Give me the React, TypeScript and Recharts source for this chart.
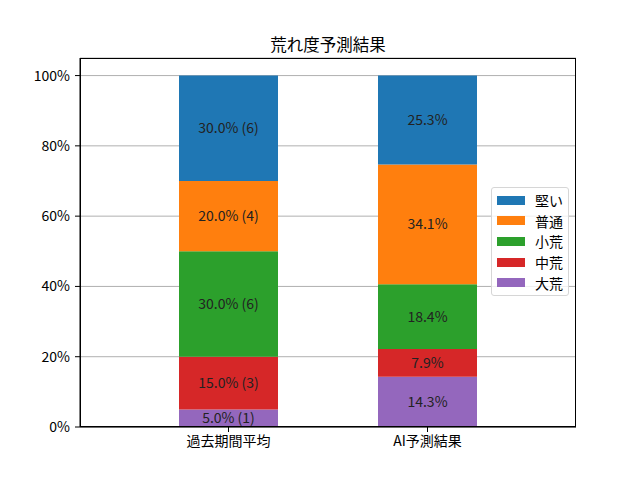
import React from 'react';
import { BarChart, Bar, XAxis, YAxis, CartesianGrid } from 'recharts';

// 荒れ度カテゴリ (下から積み上げ順)
const levels = ['大荒', '中荒', '小荒', '普通', '堅い'];
const colors = ['#9467bd', '#d62728', '#2ca02c', '#ff7f0e', '#1f77b4'];
const groups = ['過去期間平均', 'AI予測結果'];

const pastPct = [5.0, 15.0, 30.0, 20.0, 30.0];
const pastCount = [1, 3, 6, 4, 6];
const aiPct = [14.3, 7.9, 18.4, 34.1, 25.3];

const yTicks = [0, 20, 40, 60, 80, 100];

const FONT = '"Noto Sans CJK JP", "DejaVu Sans", sans-serif';

const rows = groups.map((g, gi) => {
  const row: Record<string, string | number> = { name: g };
  levels.forEach((lv, li) => {
    row[lv] = gi === 0 ? pastPct[li] : aiPct[li];
  });
  return row;
});

const makeLabel = (li: number) => (props: any) => {
  const { x, y, width, height, index } = props;
  const text =
    index === 0
      ? `${pastPct[li].toFixed(1)}% (${pastCount[li]})`
      : `${aiPct[li].toFixed(1)}%`;
  return (
    <text
      x={Number(x) + Number(width) / 2}
      y={Number(y) + Number(height) / 2 - 1}
      textAnchor="middle"
      dominantBaseline="central"
      fontSize={14}
      fontFamily={FONT}
      fill="#222"
    >
      {text}
    </text>
  );
};

const LegendBox = () => (
  <div
    style={{
      position: 'absolute',
      left: 491,
      top: 187,
      border: '1px solid #d6d6d6',
      borderRadius: 3,
      background: 'rgba(255,255,255,0.8)',
      width: 78,
      height: 109,
      boxSizing: 'border-box',
      padding: '2px 0 0 5px',
      fontFamily: FONT,
      fontSize: 14,
    }}
  >
    {levels
      .map((lv, i) => ({ lv, c: colors[i] }))
      .reverse()
      .map(({ lv, c }) => (
        <div key={lv} style={{ display: 'flex', alignItems: 'center', height: 20.6 }}>
          <span style={{ display: 'inline-block', width: 28, height: 9, background: c, marginRight: 10 }} />
          <span style={{ color: '#000' }}>{lv}</span>
        </div>
      ))}
  </div>
);

export default function App() {
  return (
    <div style={{ position: 'absolute', left: 0, top: 0, width: 640, height: 480, background: '#fff' }}>
      <div
        style={{
          position: 'absolute',
          left: 80,
          width: 496,
          top: 32,
          textAlign: 'center',
          fontFamily: FONT,
          fontSize: 16.5,
          color: '#000',
        }}
      >
        荒れ度予測結果
      </div>
      <BarChart
        width={640}
        height={480}
        data={rows}
        margin={{ top: 58, right: 64, left: 20, bottom: 23 }}
        barSize={99}
      >
        <CartesianGrid vertical={false} stroke="#b0b0b0" />
        <XAxis
          dataKey="name"
          padding={{ left: 49, right: 49 }}
          height={30}
          axisLine={{ stroke: '#000' }}
          tickLine={{ stroke: '#000' }}
          tickSize={5}
          tickMargin={4}
          tick={{ fill: '#000', fontSize: 14, fontFamily: FONT }}
        />
        <YAxis
          width={60}
          domain={[0, 105]}
          ticks={yTicks}
          tickFormatter={(v) => `${v}%`}
          axisLine={{ stroke: '#000' }}
          tickLine={{ stroke: '#000' }}
          tickSize={5}
          tickMargin={5}
          tick={{ fill: '#000', fontSize: 14, fontFamily: FONT }}
        />
        {levels.map((lv, li) => (
          <Bar
            key={lv}
            dataKey={lv}
            stackId="a"
            fill={colors[li]}
            isAnimationActive={false}
            label={makeLabel(li)}
          />
        ))}
      </BarChart>
      <LegendBox />
      <div
        style={{
          position: 'absolute',
          left: 80,
          top: 58,
          width: 496,
          height: 369,
          border: '1px solid #000',
          boxSizing: 'border-box',
          pointerEvents: 'none',
        }}
      />
    </div>
  );
}
